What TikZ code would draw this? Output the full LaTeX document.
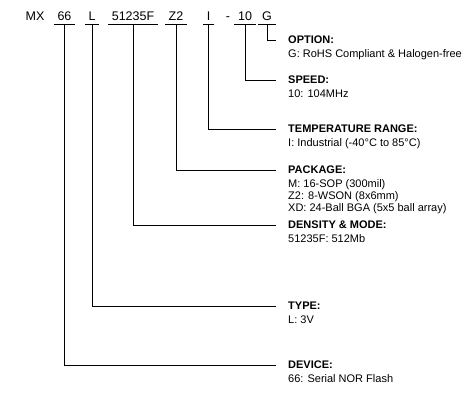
\documentclass[tikz,border=0pt]{standalone}
\usepackage{fontspec}
\setmainfont{Liberation Sans}
\begin{document}
\begin{tikzpicture}[x=1pt,y=-1pt,
  tok/.style={font=\fontsize{12.5}{14}\selectfont, anchor=base, inner xsep=3.5pt, inner ysep=3.5pt},
  ttl/.style={font=\fontsize{11}{13}\selectfont\bfseries, anchor=base west, inner sep=0pt},
  dsc/.style={font=\fontsize{11}{13}\selectfont, anchor=base west, inner sep=0pt},
  ln/.style={line width=0.9pt, black}]
\useasboundingbox (0,0) rectangle (469,416);
% part number tokens
\node[tok] (mx)  at (35,20.5)  {MX};
\node[tok] (t66) at (64.5,20.5) {66};
\node[tok] (tL)  at (92,20.5)  {L};
\node[tok] (tD)  at (133,20.5) {51235F};
\node[tok] (tZ)  at (176,20.5) {Z2};
\node[tok] (tI)  at (208.5,20.5) {I};
\node[tok] (dash) at (228,20.5) {-};
\node[tok] (t10) at (245,20.5) {10};
\node[tok] (tG)  at (267,20.5) {G};
% underlines
\foreach \n in {t66,tL,tD,tZ,tI,t10,tG}
  \draw[ln] (\n.south west) -- (\n.south east);
% line ends
\coordinate (eG)  at (276,40);
\coordinate (e10) at (276,80);
\coordinate (eI)  at (276,129);
\coordinate (eZ)  at (276,170);
\coordinate (eD)  at (276,225);
\coordinate (eL)  at (276,306);
\coordinate (e66) at (276,365);
% connectors
\draw[ln] (tG.south)  |- (eG);
\draw[ln] (t10.south) |- (e10);
\draw[ln] (tI.south)  |- (eI);
\draw[ln] (tZ.south)  |- (eZ);
\draw[ln] (tD.south)  |- (eD);
\draw[ln] (tL.south)  |- (eL);
\draw[ln] (t66.south) |- (e66);
% labels
\node[ttl] (hG) at ([shift={(12,3.5)}]eG) {OPTION:};
\node[dsc] (dG) at ([shift={(0,13.5)}]hG.base west) {G: RoHS Compliant \& Halogen-free};
\node[ttl] (h10) at ([shift={(12,3.5)}]e10) {SPEED:};
\node[dsc] (d10) at ([shift={(0,13.5)}]h10.base west) {10: 104MHz};
\node[ttl] (hI) at ([shift={(12,3.5)}]eI) {TEMPERATURE RANGE:};
\node[dsc] (dI) at ([shift={(0,13.5)}]hI.base west) {I: Industrial (-40°C to 85°C)};
\node[ttl] (hZ) at ([shift={(12,3.5)}]eZ) {PACKAGE:};
\node[dsc] (dZ1) at ([shift={(0,13.5)}]hZ.base west) {M: 16-SOP (300mil)};
\node[dsc] (dZ2) at ([shift={(0,25.5)}]hZ.base west) {Z2: 8-WSON (8x6mm)};
\node[dsc] (dZ3) at ([shift={(0,37.5)}]hZ.base west) {XD: 24-Ball BGA (5x5 ball array)};
\node[ttl] (hD) at ([shift={(12,3.5)}]eD) {DENSITY \& MODE:};
\node[dsc] (dD) at ([shift={(0,13.5)}]hD.base west) {51235F: 512Mb};
\node[ttl] (hL) at ([shift={(12,3.5)}]eL) {TYPE:};
\node[dsc] (dL) at ([shift={(0,13.5)}]hL.base west) {L: 3V};
\node[ttl] (h66) at ([shift={(12,3.5)}]e66) {DEVICE:};
\node[dsc] (d66) at ([shift={(0,13.5)}]h66.base west) {66: Serial NOR Flash};
\end{tikzpicture}
\end{document}
